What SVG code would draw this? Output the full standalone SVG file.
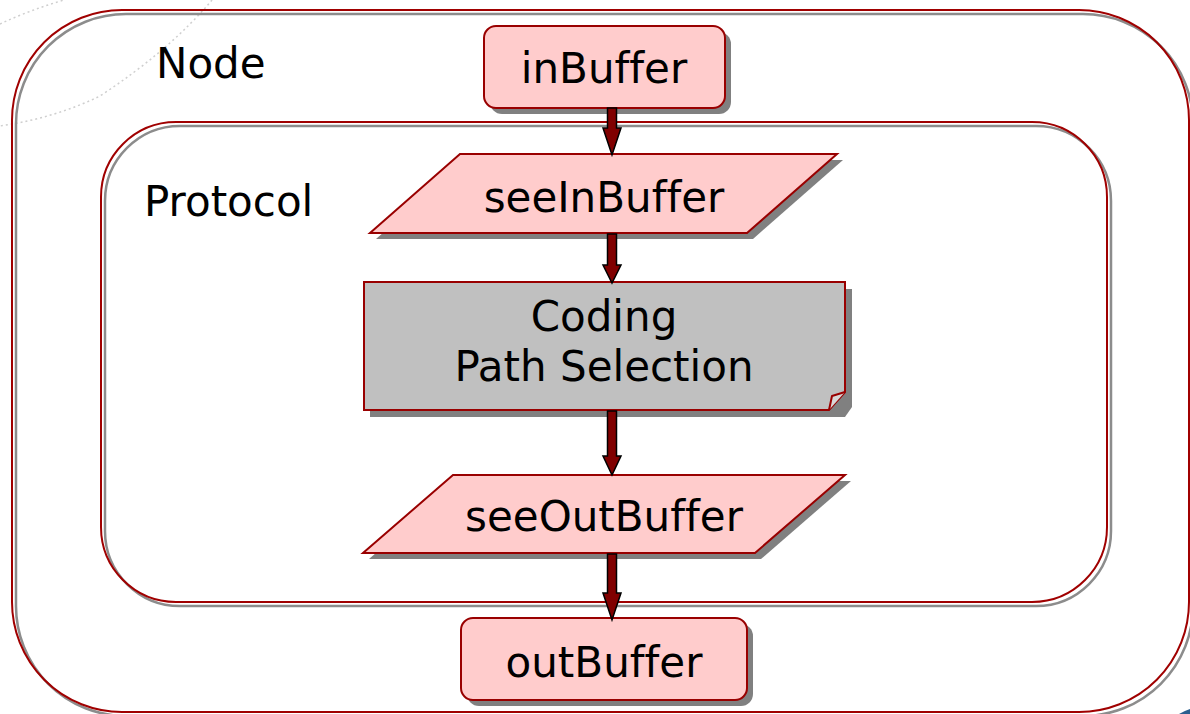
<svg xmlns="http://www.w3.org/2000/svg" width="1190" height="714" viewBox="0 0 1190 714">
<style>
.t{font-family:"DejaVu Sans","Verdana",sans-serif;font-size:42px;fill:#000;font-variant-ligatures:none;font-feature-settings:"liga" 0}
.c{text-anchor:middle}
.cont{fill:none;stroke:#a00000;stroke-width:2}
.csh{fill:none;stroke:#8c8c8c;stroke-width:2.5}
.node{fill:#ffcccc;stroke:#990000;stroke-width:2}
.sh{fill:#808080}
.arr{fill:#800000;stroke:#000;stroke-width:1.5;stroke-linejoin:miter}
.bg{fill:none;stroke:#cfcfcf;stroke-width:1.5;stroke-dasharray:2 3}
</style>
<rect width="1190" height="714" fill="#fff"/>
<g id="background">
<path class="bg" d="M0,24 Q30,10 64,0"/>
<path class="bg" d="M212,0 Q170,50 100,96 Q55,118 0,126"/>
<path d="M1179,714 Q1184,711 1190,709 L1190,714 Z" fill="#2a5f8f"/>
</g>
<g id="node-container">
<rect class="csh" x="16" y="14" width="1177" height="702" rx="110" ry="110"/>
<rect class="cont" x="12" y="10" width="1177" height="702" rx="110" ry="110"/>
<text class="t" x="156" y="78">Node</text>
</g>
<g id="protocol-container">
<rect class="csh" x="105" y="126" width="1006" height="480" rx="75" ry="75"/>
<rect class="cont" x="101" y="122" width="1006" height="480" rx="75" ry="75"/>
<text class="t" x="144" y="216">Protocol</text>
</g>
<g id="inBuffer">
<rect class="sh" x="490" y="32" width="241" height="82" rx="12" ry="12"/>
<rect class="node" x="484" y="26" width="241" height="82" rx="12" ry="12"/>
<text class="t c" x="604" y="83">inBuffer</text>
</g>
<g id="seeInBuffer">
<polygon class="sh" points="466,160 843,160 753,239 376,239"/>
<polygon class="node" points="460,154 837,154 747,233 370,233"/>
<text class="t c" x="604" y="212">seeInBuffer</text>
</g>
<g id="coding">
<polygon class="sh" points="370,289 852,289 852,407 845,417 370,417"/>
<polygon points="364,282 845,282 845,392 829,410 364,410" fill="#c0c0c0" stroke="#990000" stroke-width="2"/>
<path d="M845,392 L832,396 L829,410" fill="#d8d8d8" stroke="#990000" stroke-width="2" stroke-linejoin="round"/>
<text class="t c" x="604" y="331">Coding</text>
<text class="t c" x="604" y="381">Path Selection</text>
</g>
<g id="seeOutBuffer">
<polygon class="sh" points="459,481 851,481 761,559 369,559"/>
<polygon class="node" points="453,475 845,475 755,553 363,553"/>
<text class="t c" x="604" y="531">seeOutBuffer</text>
</g>
<g id="outBuffer">
<rect class="sh" x="467" y="624" width="286" height="82" rx="12" ry="12"/>
<rect class="node" x="461" y="618" width="286" height="82" rx="12" ry="12"/>
<text class="t c" x="604" y="677">outBuffer</text>
</g>
<g id="connectors">
<polygon class="arr" points="607.5,108 616.5,108 616.5,128 621,128 612,155 603,128 607.5,128"/>
<polygon class="arr" points="607.5,234 616.5,234 616.5,265 621,265 612,283 603,265 607.5,265"/>
<polygon class="arr" points="607.5,411 616.5,411 616.5,456 621,456 612,475 603,456 607.5,456"/>
<polygon class="arr" points="607.5,554 616.5,554 616.5,593 621,593 612,620 603,593 607.5,593"/>
</g>
</svg>
